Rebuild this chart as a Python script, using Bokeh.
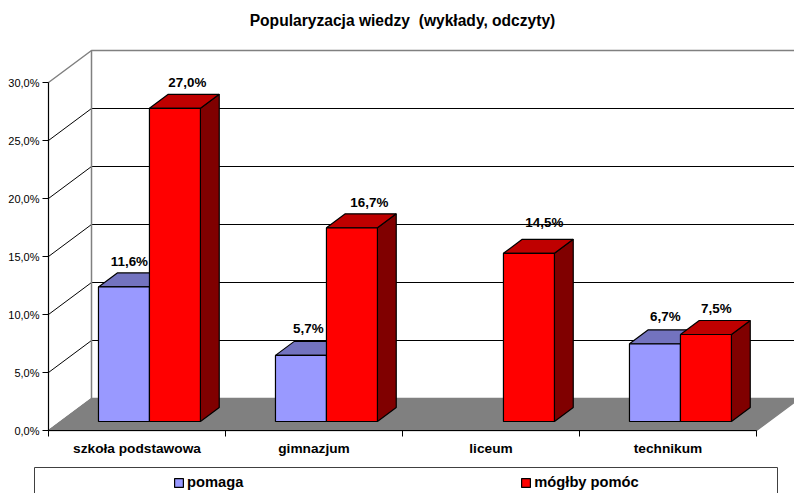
from bokeh.plotting import figure
from bokeh.models import Range1d, FixedTicker, Legend, LegendItem, Label, BoxAnnotation
from bokeh.core.properties import value
from bokeh.embed import file_html
from bokeh.resources import INLINE

title_text = "Popularyzacja wiedzy \u00a0(wykłady, odczyty)"
categories = ["szkoła podstawowa", "gimnazjum", "liceum", "technikum"]
series_names = ["pomaga", "mógłby pomóc"]
pomaga = [11.6, 5.7, None, 6.7]
mogłby = [27.0, 16.7, 14.5, 7.5]
y_ticks = [0, 5, 10, 15, 20, 25, 30]
y_tick_labels = ["0,0%", "5,0%", "10,0%", "15,0%", "20,0%", "25,0%", "30,0%"]

# layout (pixels on the page)
W, H = 794, 493
PX_X, PX_Y = 177.0, 11.6          # pixels per category / per percent
LEFT, BOTTOM = 48, 63
DX, DY = 43 / PX_X, 32 / PX_Y     # full floor depth in data units
D0, D1 = 9 / 32, 23 / 32          # front / back of the bars as depth fraction
BAR_L, BAR_M, BAR_R = 0.214, 0.502, 0.79
# manual label offsets (px) from the centre of each bar's top face / from the top
label_off = {
    0: [(-4, 25), (-2, 27), (0, 0), (1, 27)],
    1: [(3, 26), (8, 25), (6, 31), (1, 26)],
}

COL = {0: ("#9999FF", "#7373BF", "#4D4D80"), 1: ("#FF0000", "#BF0000", "#800000")}

p = figure(width=W, height=H, output_backend="svg", toolbar_location=None,
           x_range=Range1d(-LEFT / PX_X, (W - LEFT) / PX_X),
           y_range=Range1d(-BOTTOM / PX_Y, (H - BOTTOM) / PX_Y),
           min_border_left=0, min_border_right=0, min_border_top=0, min_border_bottom=0,
           background_fill_color="white", border_fill_color="white", outline_line_color=None)
p.grid.visible = False

GRAY = "#808080"
XEND = (W - LEFT) / PX_X + 1
# floor
p.patch([0, 4.0, 4.0 + DX, DX], [0, 0, DY, DY], fill_color=GRAY, line_color=GRAY, line_width=1.5)
# walls: grid lines
for t in y_ticks[1:-1]:
    p.line([0, DX, XEND], [t, t + DY, t + DY], line_color="black", line_width=1)
top = y_ticks[-1]
p.line([0, DX, XEND], [top, top + DY, top + DY], line_color=GRAY, line_width=1.5)
p.line([DX, DX], [DY, top + DY], line_color=GRAY, line_width=1.5)
p.line([0, DX], [0, DY], line_color=GRAY, line_width=1)

# bars
fronts = {}
labels_x, labels_y, labels_t = [], [], []
for s, vals in enumerate([pomaga, mogłby]):
    c_front, c_top, c_side = COL[s]
    for i, v in enumerate(vals):
        if v is None:
            continue
        l = i + (BAR_L if s == 0 else BAR_M)
        r = i + (BAR_M if s == 0 else BAR_R)
        x0, y0 = D0 * DX, D0 * DY
        x1, y1 = D1 * DX, D1 * DY
        p.patch([r + x0, r + x1, r + x1, r + x0], [y0, y1, v + y1, v + y0],
                fill_color=c_side, line_color="black", line_width=1.2)
        p.patch([l + x0, r + x0, r + x1, l + x1], [v + y0, v + y0, v + y1, v + y1],
                fill_color=c_top, line_color="black", line_width=1.2)
        rr = p.patch([l + x0, r + x0, r + x0, l + x0], [y0, y0, v + y0, v + y0],
                     fill_color=c_front, line_color="black", line_width=1.2)
        fronts[s] = rr
        ox, oy = label_off[s][i]
        labels_x.append((l + r) / 2 + (x0 + x1) / 2 + ox / PX_X)
        labels_y.append(v + y0 + oy / PX_Y)
        labels_t.append(f"{v:.1f}%".replace(".", ","))

p.text(labels_x, labels_y, text=labels_t, text_align="center", text_baseline="middle",
       text_font=value("Liberation Sans"), text_font_style="bold", text_font_size="13.4px", text_color="black")

# axes
ya = p.yaxis[0]
ya.fixed_location = 0
ya.ticker = FixedTicker(ticks=y_ticks)
ya.major_label_overrides = dict(zip(y_ticks, y_tick_labels))
ya.bounds = (0, 30)
ya.major_tick_in, ya.major_tick_out = 0, 6
ya.minor_tick_in = ya.minor_tick_out = 0
ya.major_label_standoff = 3
ya.major_label_text_font = "Liberation Sans"
ya.major_label_text_font_size = "11px"
ya.major_label_text_color = "black"
ya.axis_line_color = "black"
ya.axis_line_width = 1.2
ya.major_tick_line_color = "black"

xa = p.xaxis[0]
xa.fixed_location = 0
centers = [i + 0.5 for i in range(len(categories))]
xa.ticker = FixedTicker(ticks=centers, minor_ticks=list(range(len(categories) + 1)))
xa.major_label_overrides = dict(zip(centers, categories))
xa.bounds = (0, 4)
xa.major_tick_in = xa.major_tick_out = 0
xa.minor_tick_in, xa.minor_tick_out = 0, 6
xa.major_label_standoff = 4
xa.major_label_text_font = "Liberation Sans"
xa.major_label_text_font_style = "bold"
xa.major_label_text_font_size = "13.7px"
xa.major_label_text_color = "black"
xa.axis_line_color = "black"
xa.axis_line_width = 1.2
xa.minor_tick_line_color = "black"

# title
p.add_layout(Label(x=402, y=H - 20, x_units="screen", y_units="screen", text=title_text,
                   text_align="center", text_baseline="middle", text_font="Liberation Sans",
                   text_font_style="bold", text_font_size="15.6px", text_color="black"))

# legend
box = BoxAnnotation(left=(34 - LEFT) / PX_X, right=(777 - LEFT) / PX_X,
                    top=(430 - 467) / PX_Y, bottom=(430 - 500) / PX_Y,
                    fill_color=None, line_color="#404040", line_alpha=1, line_width=1, level="overlay")
p.add_layout(box)
leg = Legend(items=[LegendItem(label=series_names[0], renderers=[fronts[0]]),
                    LegendItem(label=series_names[1], renderers=[fronts[1]])],
             orientation="horizontal", location=(173, 3), padding=0, margin=0, spacing=277,
             glyph_width=11, glyph_height=11, label_standoff=3, border_line_color=None,
             background_fill_alpha=0, label_text_font="Liberation Sans", label_text_font_style="bold",
             label_text_font_size="14.7px", label_text_color="black")
p.add_layout(leg)

open("out.html", "w").write(file_html(p, INLINE))
